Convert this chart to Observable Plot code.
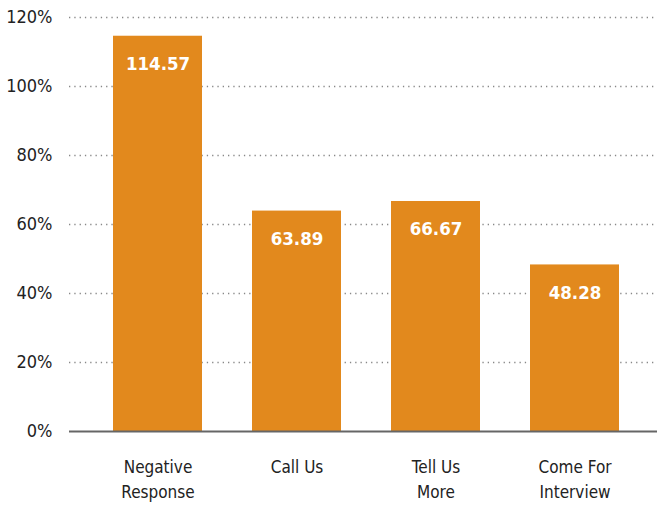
<!DOCTYPE html>
<html>
<head>
<meta charset="utf-8">
<script src="https://cdn.jsdelivr.net/npm/d3@7"></script>
<script src="https://cdn.jsdelivr.net/npm/@observablehq/plot@0.6"></script>
<style>
  html, body { margin: 0; padding: 0; background: #fff; }
  #chart svg { display: block; }
</style>
</head>
<body>
<div id="chart"></div>
<script>
const categories = ["Negative\nResponse", "Call Us", "Tell Us\nMore", "Come For\nInterview"];
const values = [114.57, 63.89, 66.67, 48.28];
const yTicks = [0, 20, 40, 60, 80, 100, 120];

const data = categories.map((c, i) => ({category: c, value: values[i]}));
const font = "'Liberation Sans Narrow', 'DejaVu Sans Condensed', sans-serif";

const chart = Plot.plot({
  width: 657,
  height: 506,
  marginTop: 17,
  marginBottom: 75,
  marginLeft: 69,
  marginRight: 0,
  style: {fontFamily: font, fontSize: "17px", color: "#222", background: "#fff"},
  x: {domain: categories, range: [112, 619], paddingInner: 0.36, paddingOuter: 0, label: null},
  y: {domain: [0, 120], label: null},
  marks: [
    Plot.ruleY(yTicks.filter(d => d > 0), {stroke: "#888", strokeWidth: 1.3, strokeDasharray: "1.3,4"}),
    Plot.barY(data, {x: "category", y: "value", fill: "#e2891d"}),
    Plot.ruleY([0], {stroke: "#666", strokeWidth: 2}),
    Plot.text(data, {x: "category", y: "value", text: d => d.value.toFixed(2), fill: "#fff", dy: 28, fontSize: 18.5, fontWeight: "bold"}),
    Plot.axisY({ticks: yTicks, tickSize: 0, tickPadding: 17, tickFormat: d => d + "%", fontSize: 18, fill: "#222"}),
    Plot.axisX({tickSize: 0, tickPadding: 24, fontSize: 17, lineHeight: 1.45, fill: "#222"})
  ]
});
document.getElementById("chart").appendChild(chart);
</script>
</body>
</html>
